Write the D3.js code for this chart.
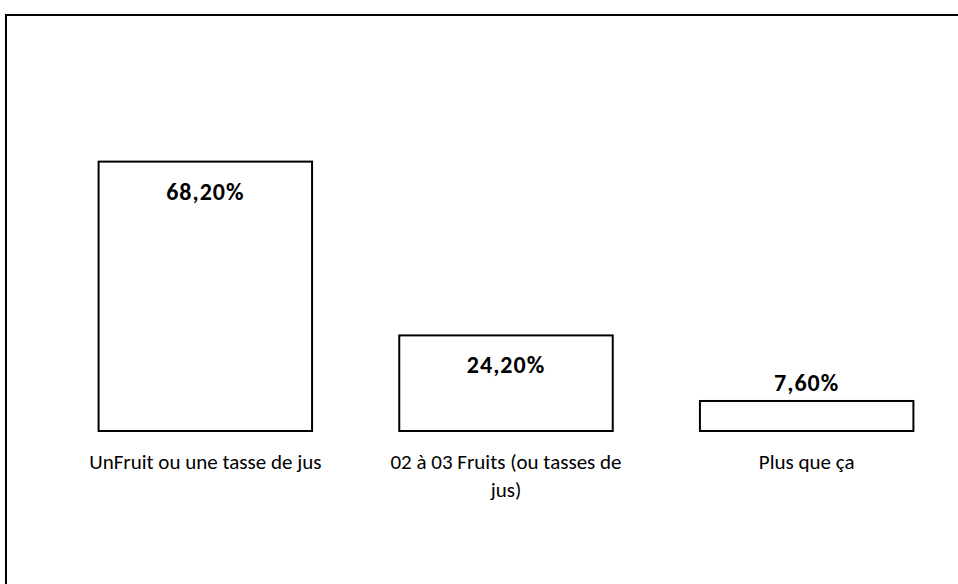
<!DOCTYPE html>
<html><head><meta charset="utf-8">
<script src="https://cdn.jsdelivr.net/npm/d3@7"></script>
<style>body{margin:0;background:#fff}svg{display:block}</style>
</head><body>
<svg id="c" width="958" height="584"></svg>
<script>
const categories = ["UnFruit ou une tasse de jus", "02 à 03 Fruits (ou tasses de jus)", "Plus que ça"];
const catLines = [["UnFruit ou une tasse de jus"], ["02 à 03 Fruits (ou tasses de", "jus)"], ["Plus que ça"]];
const values = [68.2, 24.2, 7.6];
const valueLabels = ["68,20%", "24,20%", "7,60%"];

const svg = d3.select("#c");
const font = "Carlito, Calibri, Lato, sans-serif";
svg.append("rect").attr("x", 6).attr("y", 15).attr("width", 1000).attr("height", 700)
  .attr("fill", "#fff").attr("stroke", "#000").attr("stroke-width", 2);

const x = d3.scaleBand().domain(categories).range([55, 957]).paddingInner(0.29).paddingOuter(0.145);
const y = d3.scaleLinear().domain([0, 100]).range([431, 36]);

const g = svg.append("g");
g.selectAll("rect.bar").data(values).join("rect").attr("class", "bar")
  .attr("x", (d, i) => x(categories[i]))
  .attr("y", d => y(d))
  .attr("width", x.bandwidth())
  .attr("height", d => y(0) - y(d))
  .attr("fill", "#fff").attr("stroke", "#000").attr("stroke-width", 2);

g.selectAll("text.val").data(values).join("text").attr("class", "val")
  .attr("x", (d, i) => x(categories[i]) + x.bandwidth() / 2)
  .attr("y", d => (y(0) - y(d) > 60) ? y(d) + 38 : y(d) - 10)
  .attr("text-anchor", "middle").attr("font-family", font).attr("font-weight", "bold")
  .attr("font-size", 24).attr("letter-spacing", 1).attr("fill", "#000")
  .text((d, i) => valueLabels[i]);

catLines.forEach((lines, i) => {
  const t = g.append("text").attr("text-anchor", "middle").attr("font-family", font)
    .attr("font-size", 21).attr("fill", "#000");
  lines.forEach((l, j) => {
    t.append("tspan").attr("x", x(categories[i]) + x.bandwidth() / 2).attr("y", 469 + j * 28).text(l);
  });
});
</script>
</body></html>
